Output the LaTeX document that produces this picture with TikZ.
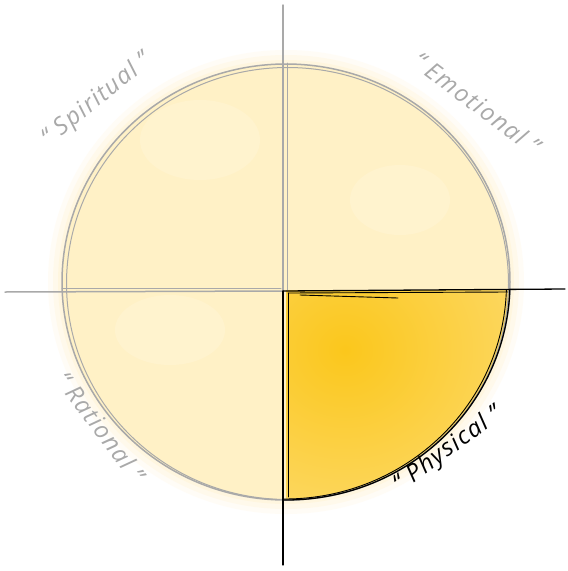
\documentclass[tikz,border=0pt]{standalone}
\usepackage{fontspec}
\setmainfont{Open Sans}
\definecolor{lightyel}{HTML}{FFF1C6}
\definecolor{glowyel}{HTML}{FFF3D2}
\definecolor{darkyel}{HTML}{FCD548}
\definecolor{deepyel}{HTML}{FBC71C}
\definecolor{paleyel}{HTML}{FDE28E}
\definecolor{sketchgray}{HTML}{A9A9A9}
\tikzset{
  grayline/.style={draw=sketchgray, line width=1.5pt, line cap=round},
  blackline/.style={draw=black, line width=1.3pt, line cap=round},
  graylabel/.style={font=\itshape\fontsize{24}{24}\selectfont\addfontfeatures{LetterSpace=6}, text=sketchgray, inner sep=0pt},
  blacklabel/.style={font=\itshape\fontsize{24}{24}\selectfont\addfontfeatures{LetterSpace=6}, text=black, inner sep=0pt}
}
\begin{document}
\begin{tikzpicture}[x=1pt,y=-1pt]
\useasboundingbox (0,0) rectangle (568,571);
\fill[white] (0,0) rectangle (568,571);
% coordinates
\coordinate (c) at (286,282);
\coordinate (vtop) at (283,5);
\coordinate (cross) at (283,291);
\coordinate (vbot) at (283,565);
\coordinate (hleft) at (5,292);
\coordinate (hright) at (565,289);
% glow
\foreach \r/\o in {14/0.2,9/0.3,4/0.45} {
  \fill[glowyel, opacity=\o] (c) ellipse ({224pt+\r pt} and {218pt+\r pt});
}
% light fill
\fill[lightyel] (c) ellipse (224pt and 218pt);
\begin{scope}
  \clip (c) ellipse (223pt and 217pt);
  \fill[white, opacity=0.15] (200,140) ellipse (60pt and 40pt);
  \fill[white, opacity=0.15] (400,200) ellipse (50pt and 35pt);
  \fill[white, opacity=0.15] (170,330) ellipse (55pt and 35pt);
\end{scope}
% physical quadrant fill
\begin{scope}
  \clip (286,290) rectangle (560,560);
  \clip (c) ellipse (224pt and 218pt);
  \shade[inner color=deepyel, outer color=paleyel] (345,350) ellipse (300pt and 280pt);
\end{scope}
% sketchy circle (gray)
\draw[grayline] (c) ellipse (224pt and 218pt);
\draw[grayline, line width=1pt] ([shift={(1.5,1.5)}]c) ellipse (221pt and 216pt);
% black arc on physical quadrant
\begin{scope}
  \clip (284,289) rectangle (560,560);
  \draw[blackline] (c) ellipse (224pt and 218pt);
  \draw[blackline, line width=0.9pt] ([shift={(-1.5,1)}]c) ellipse (222pt and 216pt);
\end{scope}
% gray dividers
\draw[grayline] (vtop) -- (cross);
\draw[grayline, line width=1pt] (287,63) -- (287,290);
\draw[grayline] (hleft) -- (cross);
\draw[grayline, line width=1pt] (62,288) -- (281,288);
% black dividers
\draw[blackline] (cross) -- (vbot);
\draw[blackline, line width=0.9pt] (288,293) -- (288,497);
\draw[blackline] (cross) -- (hright);
\draw[blackline, line width=0.9pt] (288,293) -- (508,292);
\draw[blackline, line width=0.9pt] (300,295) -- (398,298);
% labels
\node[graylabel, rotate=39] (spiritual) at (97,100) {“ Spiritual ”};
\node[graylabel, rotate=-37] (emotional) at (477,103) {“ Emotional ”};
\node[graylabel, rotate=-53] (rational) at (101,427) {“ Rational ”};
\node[blacklabel, rotate=36] (physical) at (448,450) {“ Physical ”};
\end{tikzpicture}
\end{document}
